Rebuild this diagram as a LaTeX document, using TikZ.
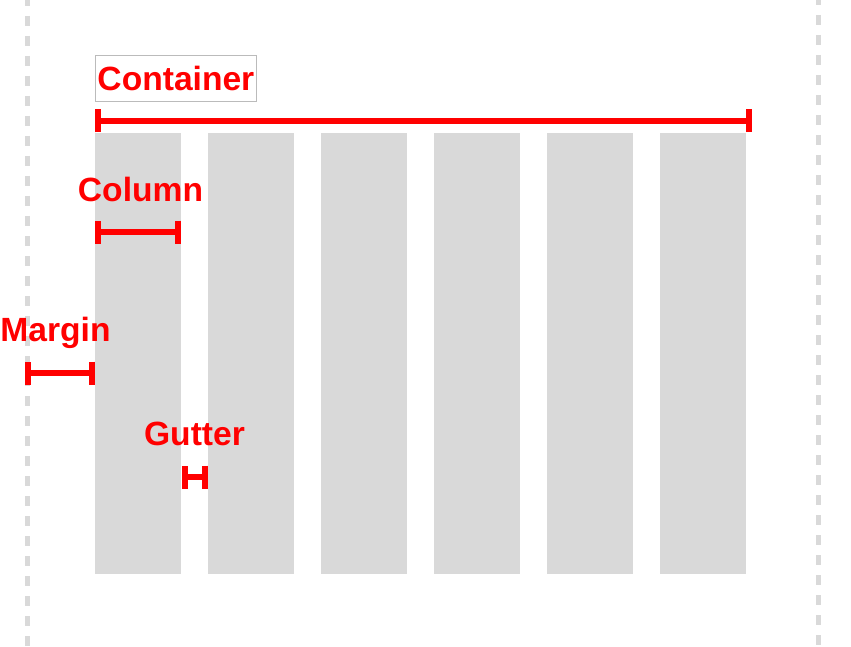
\documentclass[tikz,border=0pt]{standalone}
\usepackage{fontspec}
\setmainfont{Liberation Sans}
\usetikzlibrary{arrows.meta}
\definecolor{colgray}{HTML}{D9D9D9}
\definecolor{edgegray}{HTML}{BBBBBB}
\tikzset{
  col/.style={fill=colgray,draw=none,anchor=north west,minimum width=86pt,minimum height=441pt,inner sep=0pt},
  label/.style={text=red,font=\fontsize{33.6}{38}\selectfont\bfseries,inner sep=0pt},
  span/.style={draw=red,line width=6pt,{Bar[width=23pt,line width=6pt]}-{Bar[width=23pt,line width=6pt]}},
  guide/.style={draw=colgray,line width=5pt,dash pattern=on 10pt off 10pt}
}

\begin{document}
\begin{tikzpicture}[x=1pt,y=-1pt]
  \useasboundingbox (0,0) rectangle (851,647);
  % page edges
  \coordinate (lt) at (27.5,-4);  \coordinate (lb) at (27.5,647);
  \coordinate (rt) at (818.5,-5); \coordinate (rb) at (818.5,647);
  \draw[guide] (lt) -- (lb);
  \draw[guide] (rt) -- (rb);
  % columns
  \foreach \i in {1,...,6}
    \node[col] (c\i) at ({95+113*(\i-1)},133) {};
  % container
  \node[label,draw=edgegray,line width=0.8pt,anchor=north west,minimum width=161pt,minimum height=46pt] (container) at (95,55) {Container};
  \coordinate (ca) at (95,121); \coordinate (cb) at (752,121);
  \draw[span] (ca) -- (cb);
  % column
  \node[label,anchor=base] (column) at (140.5,202) {Column};
  \coordinate (ka) at (95,232); \coordinate (kb) at (181,232);
  \draw[span] (ka) -- (kb);
  % margin
  \node[label,anchor=base] (margin) at (55.5,341) {Margin};
  \coordinate (ma) at (25,373); \coordinate (mb) at (95,373);
  \draw[span] (ma) -- (mb);
  % gutter
  \node[label,anchor=base] (gutter) at (194.5,445) {Gutter};
  \coordinate (ga) at (182,477); \coordinate (gb) at (208,477);
  \draw[span] (ga) -- (gb);
\end{tikzpicture}
\end{document}
